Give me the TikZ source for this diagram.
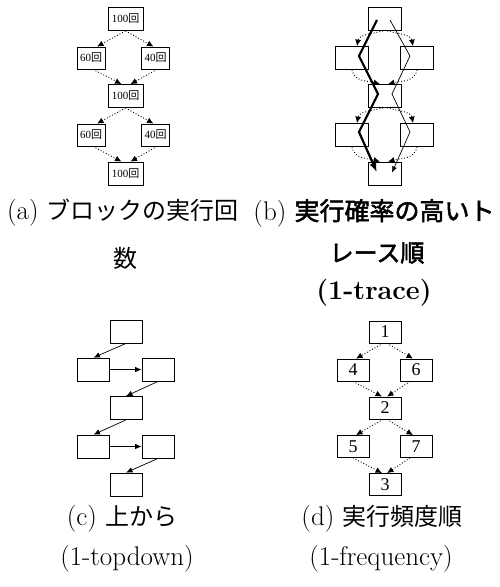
\documentclass[tikz,border=0pt]{standalone}
\usepackage{fontspec}
\newfontfamily\jp{Noto Sans CJK JP}
\newfontfamily\jpb[FakeBold=2.2]{Noto Sans CJK JP}
\newfontfamily\tm{Liberation Serif}
\usetikzlibrary{arrows.meta}
\begin{document}
\begin{tikzpicture}[x=1pt,y=-1pt,
  blk/.style={draw,line width=0.8pt,rectangle,inner sep=0pt,font=\tm\fontsize{11}{11}\selectfont},
  bigb/.style={blk,minimum width=35pt,minimum height=23pt},
  smallb/.style={blk,minimum width=28pt,minimum height=22pt},
  bbox/.style={blk,minimum width=33pt,minimum height=23pt},
  cbox/.style={blk,minimum width=32pt,minimum height=23pt},
  dbox/.style={blk,minimum width=32pt,minimum height=22pt,font=\tm\fontsize{18}{18}\selectfont},
  dotarr/.style={dotted,line width=0.9pt,-{Latex[length=6.5pt,width=6pt]}},
  solarr/.style={line width=0.7pt,-{Latex[length=6.5pt,width=5.5pt]}},
  captxt/.style={align=center,inner sep=0pt,font=\fontsize{27}{30}\selectfont}
]
\useasboundingbox (0,0) rectangle (500,587);
% ---------- (a)
\node[bigb] (a1) at (125.5,19) {100{\jp 回}};
\node[smallb] (a2) at (91,58) {60{\jp 回}};
\node[smallb] (a3) at (155.5,58) {40{\jp 回}};
\node[bigb] (a4) at (125.5,96) {100{\jp 回}};
\node[smallb] (a5) at (91,135) {60{\jp 回}};
\node[smallb] (a6) at (155.5,135) {40{\jp 回}};
\node[bigb] (a7) at (125.5,173.5) {100{\jp 回}};
\draw[dotarr] (a1.south) -- ([xshift=6pt]a2.north);
\draw[dotarr] (a1.south) -- ([xshift=-2pt]a3.north);
\draw[dotarr] ([xshift=2pt]a2.south) -- ([xshift=-4pt]a4.north);
\draw[dotarr] ([xshift=1.5pt]a3.south) -- ([xshift=5pt]a4.north);
\draw[dotarr] (a4.south) -- ([xshift=6pt]a5.north);
\draw[dotarr] (a4.south) -- ([xshift=-2pt]a6.north);
\draw[dotarr] ([xshift=2pt]a5.south) -- ([xshift=-4pt]a7.north);
\draw[dotarr] ([xshift=1.5pt]a6.south) -- ([xshift=5pt]a7.north);
% ---------- (b)
\node[bbox] (b1) at (385,19) {};
\node[bbox] (b2) at (352,58) {};
\node[bbox] (b3) at (417,58) {};
\node[bbox] (b4) at (385,96) {};
\node[bbox] (b5) at (352,135) {};
\node[bbox] (b6) at (417,135) {};
\node[bbox] (b7) at (385,173.5) {};
\draw[dotarr] ([xshift=-2pt]b1.south) to[out=195,in=80] ([xshift=5pt]b2.north);
\draw[dotarr] ([xshift=2pt]b1.south) to[out=-15,in=100] ([xshift=-4pt]b3.north);
\draw[dotarr] (b2.south) to[out=-80,in=165] ([xshift=-5pt]b4.north);
\draw[dotarr] (b3.south) to[out=-100,in=15] ([xshift=3pt]b4.north);
\draw[dotarr] ([xshift=-2pt]b4.south) to[out=195,in=80] ([xshift=5pt]b5.north);
\draw[dotarr] ([xshift=2pt]b4.south) to[out=-15,in=100] ([xshift=-4pt]b6.north);
\draw[dotarr] (b5.south) to[out=-80,in=165] ([xshift=-5pt]b7.north);
\draw[dotarr] (b6.south) to[out=-100,in=15] ([xshift=3pt]b7.north);
\coordinate (p0) at ([xshift=-8pt,yshift=-1pt]b1.center);
\coordinate (p1) at ([xshift=7pt,yshift=2pt]b2.center);
\coordinate (p2) at ([xshift=-7pt,yshift=2pt]b4.center);
\coordinate (p3) at ([xshift=7pt,yshift=3pt]b5.center);
\coordinate (p4) at ([xshift=-8pt,yshift=1pt]b7.center);
\draw[line width=2.2pt,-{Latex[length=10pt,width=7pt]}] (p0) -- (p1) -- (p2) -- (p3) -- (p4);
\coordinate (q0) at ([xshift=5pt,yshift=-1pt]b1.center);
\coordinate (q1) at ([xshift=-7pt,yshift=2pt]b3.center);
\coordinate (q2) at ([xshift=7pt,yshift=2pt]b4.center);
\coordinate (q3) at ([xshift=-7pt,yshift=3pt]b6.center);
\coordinate (q4) at ([xshift=7pt,yshift=1pt]b7.center);
\draw[line width=0.7pt,-{Latex[length=6pt,width=5pt]}] (q0) -- (q1) -- (q2) -- (q3) -- (q4);
% ---------- (c)
\node[cbox] (c1) at (126,331.5) {};
\node[cbox] (c2) at (93.5,369.5) {};
\node[cbox] (c3) at (158,369.5) {};
\node[cbox] (c4) at (126,408) {};
\node[cbox] (c5) at (93.5,446.5) {};
\node[cbox] (c6) at (158,446.5) {};
\node[cbox] (c7) at (126,484.5) {};
\draw[solarr] (c1.south) -- (c2.north);
\draw[solarr] (c2.east) -- (c3.west);
\draw[solarr] (c3.south) -- (c4.north);
\draw[solarr] (c4.south) -- (c5.north);
\draw[solarr] (c5.east) -- (c6.west);
\draw[solarr] (c6.south) -- (c7.north);
% ---------- (d)
\node[dbox] (d1) at (385,332) {1};
\node[dbox] (d2) at (353,370) {4};
\node[dbox] (d3) at (416,370) {6};
\node[dbox] (d4) at (385,408) {2};
\node[dbox] (d5) at (353,446.5) {5};
\node[dbox] (d6) at (416,446.5) {7};
\node[dbox] (d7) at (385,484.5) {3};
\draw[dotarr] ([xshift=-2pt]d1.south) -- ([xshift=3pt]d2.north);
\draw[dotarr] ([xshift=2pt]d1.south) -- ([xshift=-3pt]d3.north);
\draw[dotarr] (d2.south) -- ([xshift=-3pt]d4.north);
\draw[dotarr] ([xshift=-6pt]d3.south) -- ([xshift=2pt]d4.north);
\draw[dotarr] ([xshift=-2pt]d4.south) -- ([xshift=3pt]d5.north);
\draw[dotarr] ([xshift=2pt]d4.south) -- ([xshift=-3pt]d6.north);
\draw[dotarr] (d5.south) -- ([xshift=-3pt]d7.north);
\draw[dotarr] ([xshift=-6pt]d6.south) -- ([xshift=2pt]d7.north);
% ---------- captions
\node[captxt] (capa1) at (123,213) {(a) {\jp\fontsize{24}{30}\selectfont ブロックの実行回}};
\node[captxt] (capa2) at (125,258) {{\jp\fontsize{24}{30}\selectfont 数}};
\node[captxt] (capb1) at (374,213) {(b) {\jpb\fontsize{25}{30}\selectfont 実行確率の高いト}};
\node[captxt] (capb2) at (377,253) {{\jpb\fontsize{24}{30}\selectfont レース順}};
\node[captxt] (capb3) at (374,293) {\bfseries (1-trace)};
\node[captxt] (capc1) at (122,519) {(c) {\jp\fontsize{24}{30}\selectfont 上から}};
\node[captxt] (capc2) at (127,559) {(1-topdown)};
\node[captxt] (capd1) at (382,519) {(d) {\jp\fontsize{24}{30}\selectfont 実行頻度順}};
\node[captxt] (capd2) at (381,559) {(1-frequency)};
\end{tikzpicture}
\end{document}
